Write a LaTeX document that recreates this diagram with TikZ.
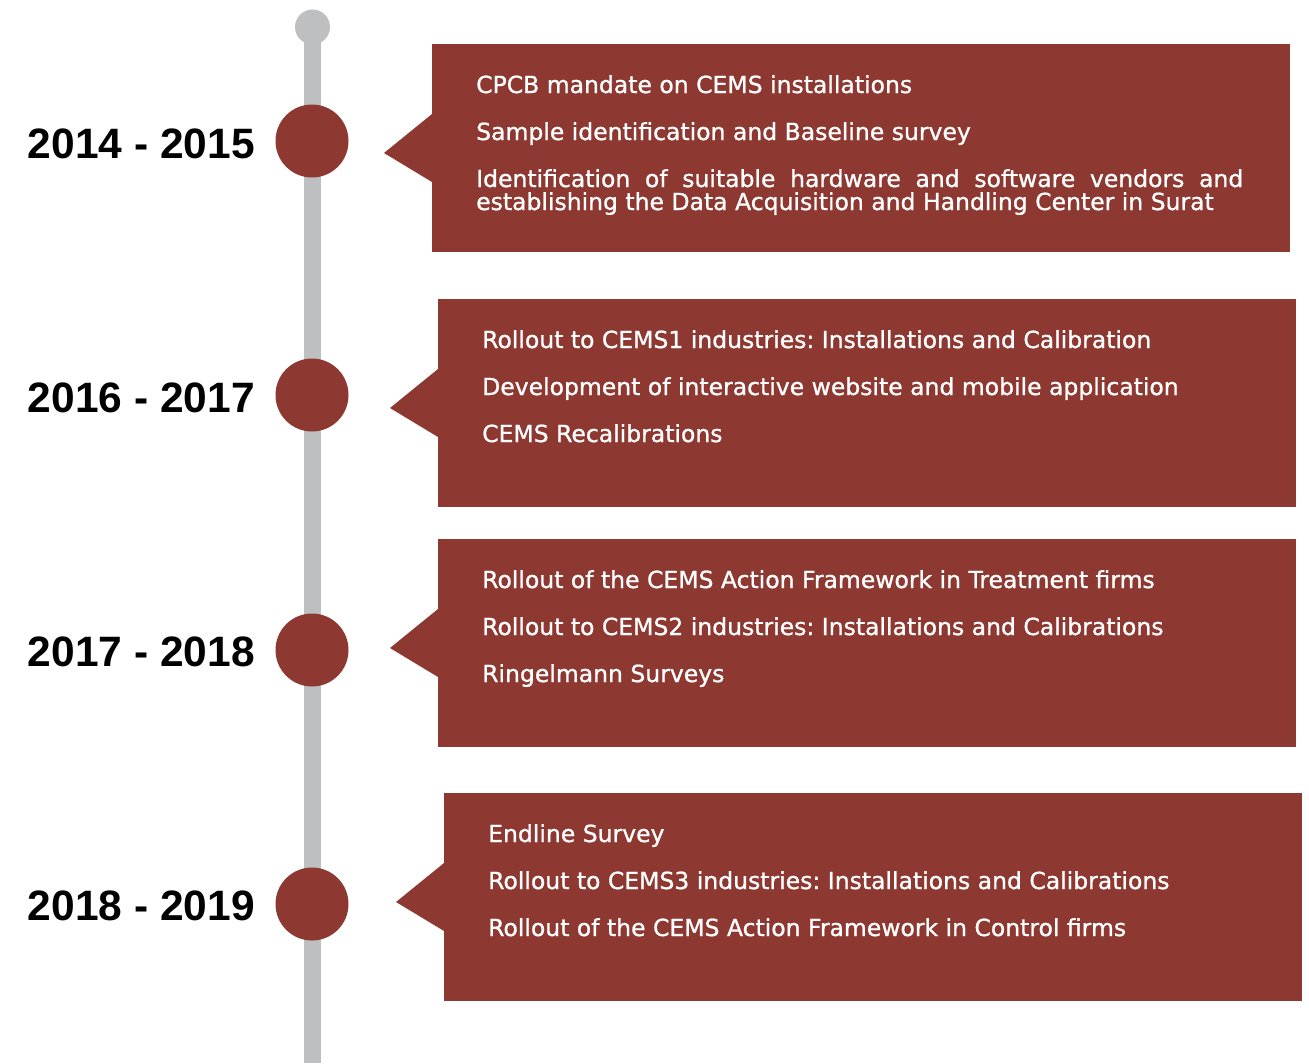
\documentclass[tikz,border=0pt]{standalone}
\usepackage{fontspec}
\setmainfont{Liberation Sans}
\newfontfamily\itemfont{DejaVu Sans}[FakeBold=1]
\definecolor{brick}{RGB}{142,56,50}
\definecolor{rail}{RGB}{190,191,193}
\frenchspacing

\begin{document}
\begin{tikzpicture}[x=1pt,y=-1pt,
  dot/.style={circle,fill=brick,minimum size=73pt,inner sep=0pt},
  year/.style={anchor=east,inner sep=0pt,font=\fontsize{42.5}{42}\selectfont\bfseries},
  panel/.style={fill=brick,minimum width=858pt,minimum height=208pt,anchor=north west,inner sep=0pt},
  item/.style={anchor=base west,inner sep=0pt,text=white,font=\itemfont\fontsize{23.5}{23}\selectfont}]
\useasboundingbox (0,0) rectangle (1309,1063);
\coordinate (top) at (312.5,27);
\coordinate (bottom) at (312.5,1063);
\draw[rail,line width=17pt] (top) -- (bottom);
\fill[rail] (top) circle (17.5);
\node[dot] (d1) at (312,141) {};
\node[dot] (d2) at (312,395) {};
\node[dot] (d3) at (312,650) {};
\node[dot] (d4) at (312,904) {};
\node[year] (y1) at (255,144) {2014 - 2015};
\node[year] (y2) at (255,398) {2016 - 2017};
\node[year] (y3) at (255,652) {2017 - 2018};
\node[year] (y4) at (255,906) {2018 - 2019};
\node[panel] (p1) at (432,44) {};
\node[panel] (p2) at (438,299) {};
\node[panel] (p3) at (438,539) {};
\node[panel] (p4) at (444,793) {};
\fill[brick] ([shift={(0,70)}]p1.north west) -- ([shift={(-48,109)}]p1.north west) -- ([shift={(0,138)}]p1.north west) -- cycle;
\fill[brick] ([shift={(0,70)}]p2.north west) -- ([shift={(-48,109)}]p2.north west) -- ([shift={(0,138)}]p2.north west) -- cycle;
\fill[brick] ([shift={(0,70)}]p3.north west) -- ([shift={(-48,109)}]p3.north west) -- ([shift={(0,138)}]p3.north west) -- cycle;
\fill[brick] ([shift={(0,70)}]p4.north west) -- ([shift={(-48,109)}]p4.north west) -- ([shift={(0,138)}]p4.north west) -- cycle;
\node[item] (a1) at (476,93) {CPCB mandate on CEMS installations};
\node[item] (a2) at (476,140) {Sample identification and Baseline survey};
\node[item,text width=767pt,align=justify] (a3) at (476,187) {Identification of suitable hardware and software vendors and\linebreak establishing the Data Acquisition and Handling Center in Surat};
\node[item] (b1) at (482,348) {Rollout to CEMS1 industries: Installations and Calibration};
\node[item] (b2) at (482,395) {Development of interactive website and mobile application};
\node[item] (b3) at (482,442) {CEMS Recalibrations};
\node[item] (c1) at (482,588) {Rollout of the CEMS Action Framework in Treatment firms};
\node[item] (c2) at (482,635) {Rollout to CEMS2 industries: Installations and Calibrations};
\node[item] (c3) at (482,682) {Ringelmann Surveys};
\node[item] (e1) at (488,842) {Endline Survey};
\node[item] (e2) at (488,889) {Rollout to CEMS3 industries: Installations and Calibrations};
\node[item] (e3) at (488,936) {Rollout of the CEMS Action Framework in Control firms};
\end{tikzpicture}
\end{document}
